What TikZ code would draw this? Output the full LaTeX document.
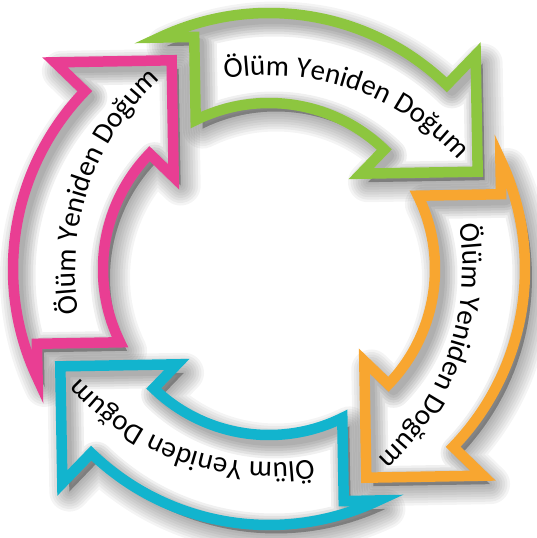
\documentclass[tikz,border=0pt]{standalone}
\usepackage{fontspec}
\setmainfont{Carlito}
\usetikzlibrary{decorations.text}
\definecolor{grass}{RGB}{141,198,63}
\definecolor{tangerine}{RGB}{248,166,48}
\definecolor{lagoon}{RGB}{18,180,206}
\definecolor{rose}{RGB}{233,62,147}
% one block arc, head on the +x axis, tail notch at about 70 degrees
\newcommand\ringarrow{(69.3:5.12) arc[start angle=69.3,end angle=0,radius=5.12]
  -- (5.95,0) -- (4.3,-1.65) -- (2.65,0) -- (3.32,0)
  arc[start angle=0,end angle=70.2,radius=3.32] -- (2.30,4.3) -- cycle}
\tikzset{
  rim/.style={draw=#1,line width=2.1mm,fill=white},
  rim/.default=grass,
  haze/.style={black,line width=#1,line join=round,draw opacity=0.045,fill opacity=0.045},
  inner haze/.style={haze=#1,draw opacity=0.06},
  label arc/.style={decorate,decoration={text along path,text align=center,
    text={|\fontsize{16.5}{19}\selectfont|Ölüm Yeniden Doğum}}},
}

\begin{document}
\begin{tikzpicture}
  \useasboundingbox (-5.38,-5.38) rectangle (5.36,5.38);
  % soft shadows first
  \foreach \ang in {46,-44,-134,136}
    \foreach \w in {8,7,...,1}
      \filldraw[haze=\w mm,shift={(0.14,-0.17)},rotate=\ang] \ringarrow;
  % the four arrows
  \foreach \ang/\col in {46/grass,-44/tangerine,-134/lagoon,136/rose}{
    \fill[white,rotate=\ang] \ringarrow;
    \begin{scope}
      \clip[rotate=\ang] \ringarrow;
      \foreach \w in {7,6,...,2}
        \draw[inner haze=\w mm,shift={(0.1,-0.12)},rotate=\ang] \ringarrow;
    \end{scope}
    \draw[rim=\col,fill=none,rotate=\ang] \ringarrow;
    % text runs on a flatter arc whose centre sits off the ring centre
    \path[label arc,rotate=\ang] (1.6495,3.5815) arc[start angle=60,end angle=-10.2,radius=5.125];
  }
\end{tikzpicture}
\end{document}
